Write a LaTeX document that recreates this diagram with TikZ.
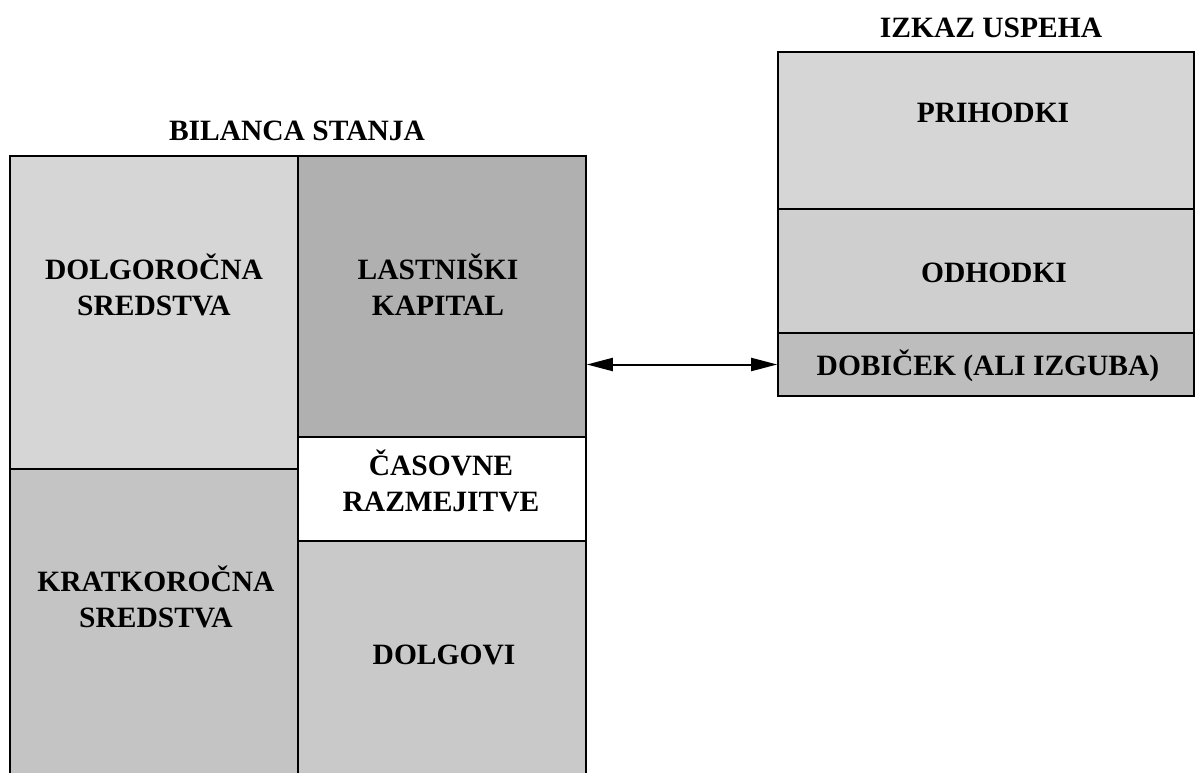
\documentclass[tikz,border=0pt]{standalone}
\usepackage{fontspec}
\setmainfont{Liberation Serif}
\usetikzlibrary{arrows.meta}
\definecolor{gA}{HTML}{D6D6D6}
\definecolor{gB}{HTML}{B0B0B0}
\definecolor{gC}{HTML}{C4C4C4}
\definecolor{gD}{HTML}{C9C9C9}
\definecolor{gE}{HTML}{CFCFCF}
\definecolor{gF}{HTML}{BDBDBD}
\tikzset{
  cell/.style={draw=black, line width=1.6pt, inner sep=0pt, outer sep=0pt},
  lbl/.style={font=\fontsize{29.5}{36}\selectfont\bfseries, align=center, anchor=base, inner sep=0pt},
  conn/.style={line width=2pt, {Triangle[length=26pt,width=13pt]}-{Triangle[length=26pt,width=13pt]}, shorten <=0.8pt, shorten >=0.8pt}
}
\begin{document}
\begin{tikzpicture}[x=1pt,y=-1pt]
\useasboundingbox (0,0) rectangle (1197,773);
% balance sheet
\node[cell, fill=gA, minimum width=288pt, minimum height=313pt] (dlg) at (154,312.5) {};
\node[cell, fill=gC, minimum width=288pt, minimum height=321pt] (krat) at (154,629.5) {};
\node[cell, fill=gB, minimum width=288pt, minimum height=281pt] (last) at (442,296.5) {};
\node[cell, fill=white, minimum width=288pt, minimum height=104pt] (cas) at (442,489) {};
\node[cell, fill=gD, minimum width=288pt, minimum height=249pt] (dolg) at (442,665.5) {};
% income statement
\node[cell, fill=gA, minimum width=416pt, minimum height=157pt] (prih) at (986,130.5) {};
\node[cell, fill=gE, minimum width=416pt, minimum height=124pt] (odh) at (986,271) {};
\node[cell, fill=gF, minimum width=416pt, minimum height=63pt] (dob) at (986,364.5) {};
% titles
\node[lbl] (tbil) at (297,141) {BILANCA STANJA};
\node[lbl] (tizk) at (991,38) {IZKAZ USPEHA};
% labels
\node[lbl] (l1) at (154,315) {DOLGOROČNA\\SREDSTVA};
\node[lbl] (l2) at (438,315) {LASTNIŠKI\\KAPITAL};
\node[lbl] (l3) at (441,511) {ČASOVNE\\RAZMEJITVE};
\node[lbl] (l4) at (156,627) {KRATKOROČNA\\SREDSTVA};
\node[lbl] (l5) at (444,664) {DOLGOVI};
\node[lbl] (l6) at (993,123) {PRIHODKI};
\node[lbl] (l7) at (994,282) {ODHODKI};
\node[lbl] (l8) at (988,375) {DOBIČEK (ALI IZGUBA)};
% connector
\draw[conn] (dob.west -| last.east) -- (dob.west);
\end{tikzpicture}
\end{document}
